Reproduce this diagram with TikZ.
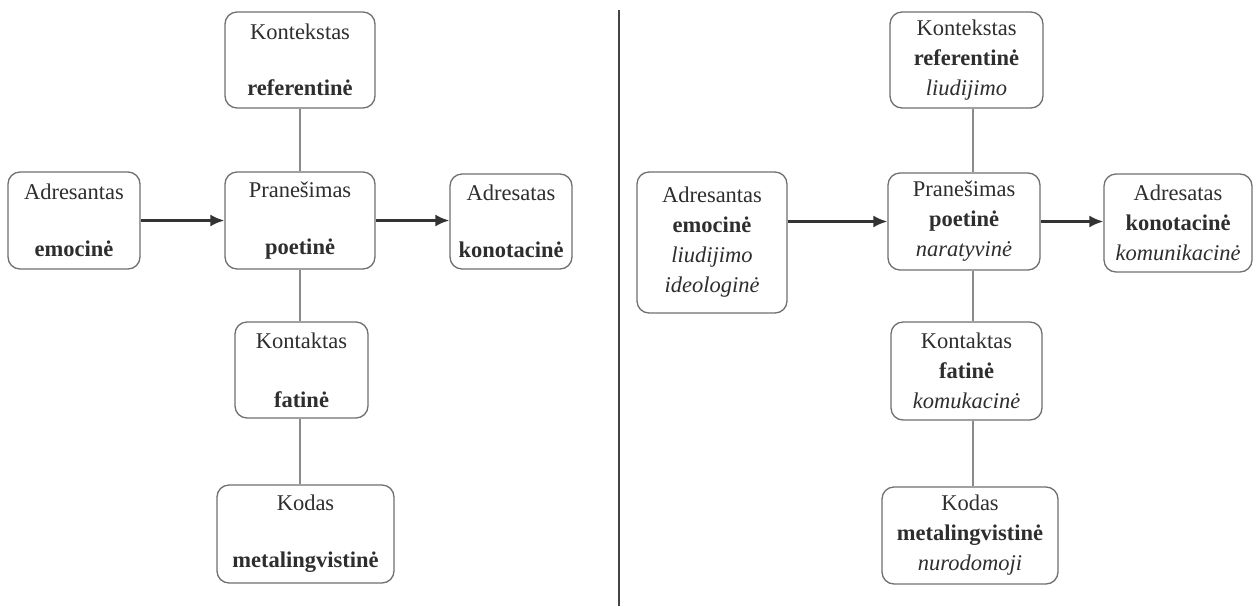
\documentclass[tikz,border=0pt]{standalone}
\usepackage{fontspec}
\setmainfont{Liberation Serif}
\usetikzlibrary{arrows.meta}
\definecolor{boxc}{HTML}{707070}
\definecolor{linkc}{HTML}{8A8A8A}
\definecolor{arrc}{HTML}{333333}
\definecolor{txt}{HTML}{2E2E2E}
\definecolor{divc}{HTML}{444444}
\begin{document}
\begin{tikzpicture}[x=1pt,y=-1pt,
  fbox/.style={draw=boxc, line width=1.3pt, rounded corners=12pt, align=center,
    inner sep=0pt, text=txt, font=\fontsize{22.5}{30}\selectfont},
  link/.style={draw=linkc, line width=1.1pt},
  flow/.style={draw=arrc, line width=2.4pt, -{Latex[length=14pt,width=12pt]}},
  divider/.style={draw=divc, line width=2.2pt}]
\useasboundingbox (0,0) rectangle (1256,606);
\fill[white] (0,0) rectangle (1256,606);

% ---------- left diagram ----------
\node[fbox, minimum width=150pt, minimum height=96pt] (ctxL) at (300,60)
  {Kontekstas\\[26pt]\textbf{referentinė}};
\node[fbox, minimum width=132pt, minimum height=97pt] (sndL) at (74,220.5)
  {Adresantas\\[27pt]\textbf{emocinė}};
\node[fbox, minimum width=150pt, minimum height=97pt] (msgL) at (300,220.5)
  {Pranešimas\\[27pt]\textbf{poetinė}};
\node[fbox, minimum width=122pt, minimum height=95pt] (rcvL) at (511,221.5)
  {Adresatas\\[27pt]\textbf{konotacinė}};
\node[fbox, minimum width=133pt, minimum height=96pt] (cntL) at (301.5,370)
  {Kontaktas\\[29pt]\textbf{fatinė}};
\node[fbox, minimum width=177pt, minimum height=98pt] (codL) at (305.5,534)
  {Kodas\\[27pt]\textbf{metalingvistinė}};

\coordinate (axL) at (300,0);
\draw[link] (ctxL.south -| axL) -- (msgL.north -| axL);
\draw[link] (msgL.south -| axL) -- (cntL.north -| axL);
\draw[link] (cntL.south -| axL) -- (codL.north -| axL);
\draw[flow] (sndL.east) -- (msgL.west);
\draw[flow] (msgL.east) -- (msgL.east -| rcvL.west);

% ---------- divider ----------
\coordinate (dtop) at (619,10);
\coordinate (dbot) at (619,606);
\draw[divider] (dtop) -- (dbot);

% ---------- right diagram ----------
\node[fbox, minimum width=153pt, minimum height=96pt] (ctxR) at (966.5,60)
  {Kontekstas\\\textbf{referentinė}\\\textit{liudijimo}};
\node[fbox, minimum width=150pt, minimum height=141pt] (sndR) at (712,242.5)
  {Adresantas\\\textbf{emocinė}\\\textit{liudijimo}\\\textit{ideologinė}};
\node[fbox, minimum width=152pt, minimum height=97pt] (msgR) at (964,221.5)
  {Pranešimas\\\textbf{poetinė}\\\textit{naratyvinė}};
\node[fbox, minimum width=148pt, minimum height=98pt] (rcvR) at (1178,223)
  {Adresatas\\\textbf{konotacinė}\\\textit{komunikacinė}};
\node[fbox, minimum width=151pt, minimum height=98pt] (cntR) at (966.5,371)
  {Kontaktas\\\textbf{fatinė}\\\textit{komukacinė}};
\node[fbox, minimum width=176pt, minimum height=97pt] (codR) at (970,535.5)
  {Kodas\\\textbf{metalingvistinė}\\\textit{nurodomoji}};

\coordinate (axR) at (973,0);
\draw[link] (ctxR.south -| axR) -- (msgR.north -| axR);
\draw[link] (msgR.south -| axR) -- (cntR.north -| axR);
\draw[link] (cntR.south -| axR) -- (codR.north -| axR);
\draw[flow] (sndR.east |- msgR.west) -- (msgR.west);
\draw[flow] (msgR.east) -- (msgR.east -| rcvR.west);
\end{tikzpicture}
\end{document}
